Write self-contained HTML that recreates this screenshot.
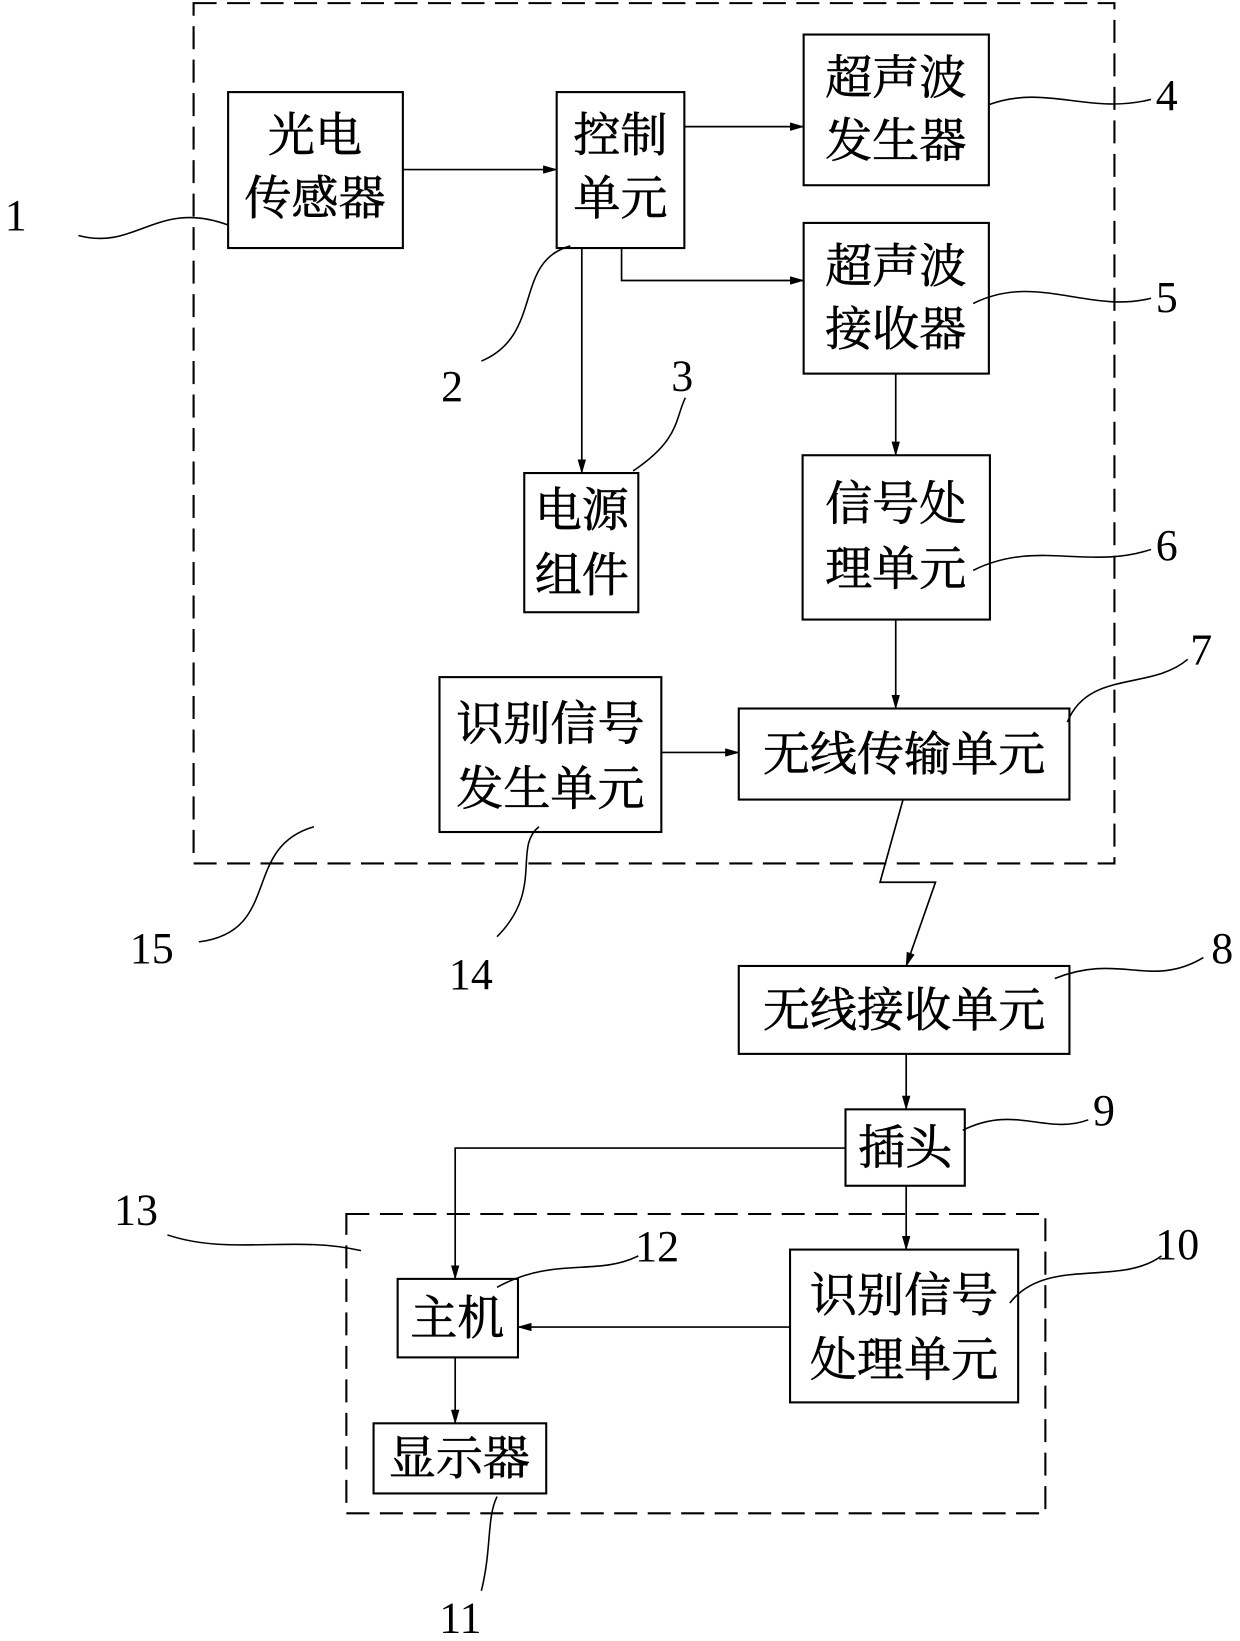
<!DOCTYPE html>
<html><head><meta charset="utf-8"><style>
html,body{margin:0;padding:0;background:#fff;}
svg{display:block;}
text{font-family:"Liberation Serif","Noto Serif CJK SC","Noto Sans CJK SC",serif;fill:#000;}
.t{font-size:45px;stroke:#000;stroke-width:0.6px;}
.n{font-size:42px;}
</style></head><body>
<svg width="1240" height="1641" viewBox="0 0 1185 1568" preserveAspectRatio="none" xmlns="http://www.w3.org/2000/svg">
<defs><marker id="a" markerWidth="14" markerHeight="8" refX="13" refY="4" orient="auto" markerUnits="userSpaceOnUse"><path d="M0,0 L14,4 L0,8 Z" fill="#000"/></marker></defs>
<g fill="none" stroke="#000" stroke-width="2">
<rect x="185" y="3" width="880" height="822" stroke-dasharray="22,10"/>
<rect x="331" y="1160" width="668" height="286" stroke-dasharray="22,10"/>
<rect x="218" y="88" width="167" height="149"/>
<rect x="532" y="88" width="122" height="149"/>
<rect x="768" y="33" width="177" height="144"/>
<rect x="768" y="213" width="177" height="144"/>
<rect x="501" y="452" width="109" height="133"/>
<rect x="767" y="435" width="179" height="157"/>
<rect x="420" y="647" width="212" height="148"/>
<rect x="706" y="677" width="316" height="87"/>
<rect x="706" y="923" width="316" height="84"/>
<rect x="808" y="1060" width="114" height="73"/>
<rect x="755" y="1194" width="218" height="146"/>
<rect x="380" y="1222" width="115" height="75"/>
<rect x="357" y="1360" width="165" height="67"/>
<g stroke-width="1.6" marker-end="url(#a)">
<path d="M385,162 H532"/>
<path d="M654,121 H768"/>
<path d="M594,237 V268 H768"/>
<path d="M556,237 V452"/>
<path d="M856,357 V435"/>
<path d="M856,592 V677"/>
<path d="M632,719 H706"/>
<path d="M863,764 L841,843 L894,843 L866,923"/>
<path d="M866,1007 V1060"/>
<path d="M866,1133 V1194"/>
<path d="M808,1097 H435 V1222"/>
<path d="M755,1268 H495"/>
<path d="M435,1297 V1360"/>
</g>
<g stroke-width="1.5">
<path d="M75,225 C130,240 150,190 218,215"/>
<path d="M460,345 C520,320 490,250 545,235"/>
<path d="M605,450 C650,420 645,400 655,380"/>
<path d="M945,100 C1000,80 1040,110 1100,95"/>
<path d="M930,290 C990,260 1040,300 1100,285"/>
<path d="M930,545 C990,515 1040,545 1100,525"/>
<path d="M1020,690 C1040,640 1100,660 1135,630"/>
<path d="M1008,935 C1070,910 1100,945 1150,915"/>
<path d="M920,1080 C970,1055 1000,1085 1040,1070"/>
<path d="M965,1245 C1000,1200 1070,1230 1110,1200"/>
<path d="M460,1520 C470,1480 465,1450 475,1430"/>
<path d="M475,1230 C530,1200 570,1220 610,1200"/>
<path d="M160,1180 C220,1200 280,1180 345,1195"/>
<path d="M475,895 C520,850 490,810 515,790"/>
<path d="M190,900 C270,890 230,810 300,790"/>
</g>
</g>
<g class="t" text-anchor="middle" transform="translate(0,-2)">
<text x="301" y="147">光电</text><text x="301" y="207">传感器</text>
<text x="593" y="147">控制</text><text x="593" y="207">单元</text>
<text x="856" y="92">超声波</text><text x="856" y="152">发生器</text>
<text x="856" y="272">超声波</text><text x="856" y="332">接收器</text>
<text x="556" y="505">电源</text><text x="556" y="567">组件</text>
<text x="856" y="499">信号处</text><text x="856" y="561">理单元</text>
<text x="526" y="709">识别信号</text><text x="526" y="771">发生单元</text>
<text x="864" y="738">无线传输单元</text>
<text x="864" y="983">无线接收单元</text>
<text x="865" y="1114">插头</text>
<text x="864" y="1255">识别信号</text><text x="864" y="1317">处理单元</text>
<text x="437" y="1277">主机</text>
<text x="439" y="1411">显示器</text>
</g>
<g class="n" text-anchor="middle">
<text x="15" y="220">1</text><text x="432" y="383">2</text><text x="652" y="373">3</text>
<text x="1115" y="105">4</text><text x="1115" y="298">5</text><text x="1115" y="535">6</text>
<text x="1148" y="635">7</text><text x="1168" y="920">8</text><text x="1055" y="1075">9</text>
<text x="1125" y="1203">10</text><text x="440" y="1560">11</text><text x="628" y="1205">12</text>
<text x="130" y="1170">13</text><text x="450" y="945">14</text><text x="145" y="920">15</text>
</g>
</svg>
</body></html>
